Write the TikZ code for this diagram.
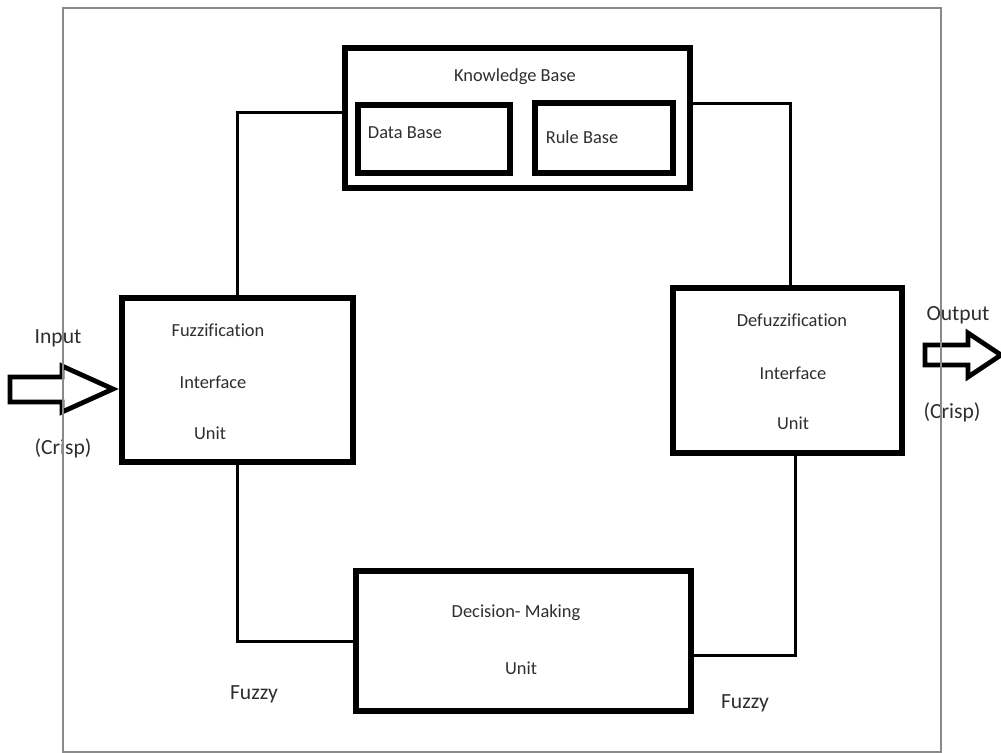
\documentclass[tikz,border=0pt]{standalone}
\usepackage{fontspec}
\setmainfont{Carlito}[Ligatures=NoCommon]
\usetikzlibrary{calc}
\definecolor{ink}{HTML}{2E2E2E}
\definecolor{frame}{HTML}{8A8A8A}
\begin{document}
\begin{tikzpicture}[x=0.5pt,y=-0.5pt,
  block/.style={draw=black,line width=2.7pt,rectangle,outer sep=0pt,inner sep=0pt},
  boxtext/.style={text=ink,font=\fontsize{9.2pt}{11pt}\selectfont,inner sep=0pt},
  labeltext/.style={text=ink,font=\fontsize{10.8pt}{13pt}\selectfont,inner sep=0pt},
  wire/.style={draw=black,line width=1.5pt},
  bigarrow/.style={draw=black,line width=2.4pt,line join=miter}]
\useasboundingbox (0,0) rectangle (1001,753);

% blocks
\node[block,minimum width=172.5pt,minimum height=70pt] (kb) at (517.5,118) {};
\node[block,minimum width=76pt,minimum height=34pt] (db) at (434,139) {};
\node[block,minimum width=69pt,minimum height=35pt] (rb) at (604,138) {};
\node[block,minimum width=115.5pt,minimum height=82pt] (fz) at (237.5,380) {};
\node[block,minimum width=114.5pt,minimum height=82.5pt] (df) at (787.5,370.5) {};
\node[block,minimum width=167.5pt,minimum height=70pt] (dm) at (523.5,641) {};

% block texts
\node[boxtext] (kbt) at (515,77) {Knowledge Base};
\node[boxtext] (dbt) at (405,133) {Data Base};
\node[boxtext] (rbt) at (582,137) {Rule Base};
\node[boxtext] (fz1) at (218,330) {Fuzzification};
\node[boxtext] (fz2) at (213,382) {Interface};
\node[boxtext] (fz3) at (210,433) {Unit};
\node[boxtext] (df1) at (792,320) {Defuzzification};
\node[boxtext] (df2) at (793,373) {Interface};
\node[boxtext] (df3) at (793,423) {Unit};
\node[boxtext] (dm1) at (516,613) {Decision- Making};
\node[boxtext] (dm2) at (521,668) {Unit};

% connectors
\draw[wire] (fz.north) |- ($(kb.west)+(0,-5)$);
\draw[wire] ($(kb.east)+(0,-14)$) -| ($(df.north)+(2.5,0)$);
\draw[wire] (fz.south) |- (dm.west);
\draw[wire] ($(dm.east)+(0,14)$) -| ($(df.south)+(7.5,0)$);

% input / output arrows
\coordinate (inTip) at (113,389);
\coordinate (outTip) at (1001,355);
\draw[bigarrow] (10,377) -- (62,377) -- (62,366) -- (inTip) -- (62,412) -- (62,402) -- (10,402) -- cycle;
\draw[bigarrow] (925,345) -- (968,345) -- (968,333) -- (outTip) -- (968,377) -- (968,365) -- (925,365) -- cycle;

% side labels
\node[labeltext] (inl) at (58,338) {Input};
\node[labeltext] (incr) at (63,448) {(Crisp)};
\node[labeltext] (outl) at (958,315) {Output};
\node[labeltext] (outcr) at (952,412) {(Crisp)};
\node[labeltext] (fzl) at (254,694) {Fuzzy};
\node[labeltext] (fzr) at (745,703) {Fuzzy};

% surrounding frame
\draw[frame,line width=1pt] (63,8) rectangle (941,752);
\end{tikzpicture}
\end{document}
